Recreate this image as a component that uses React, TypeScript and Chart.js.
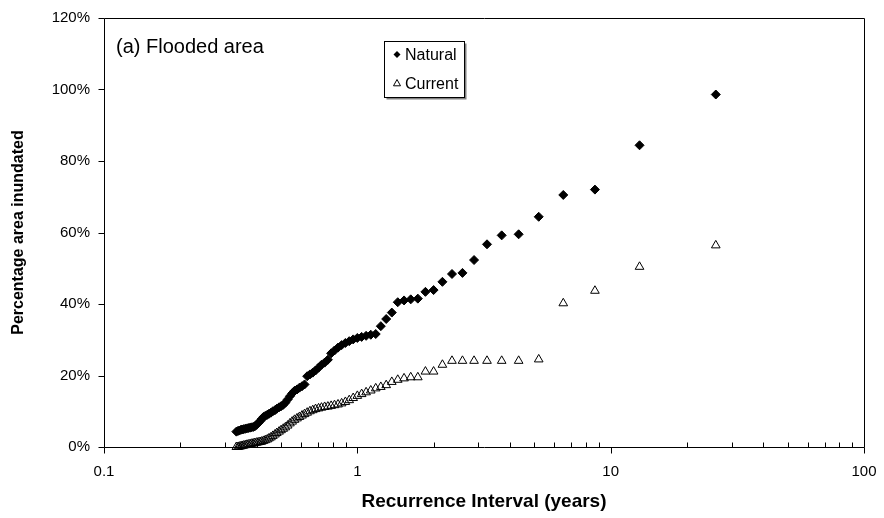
import React, { useEffect, useRef } from 'react';
import { Chart, registerables } from 'chart.js';

Chart.register(...registerables);

// Recurrence interval (years) for each ranked event
const recurrenceYears = [
  26, 13, 8.667, 6.5, 5.2, 4.333, 3.714, 3.25, 2.889, 2.6,
  2.364, 2.167, 2, 1.857, 1.733, 1.625, 1.529, 1.444, 1.368, 1.3,
  1.238, 1.182, 1.13, 1.083, 1.04, 1, 0.963, 0.929, 0.897, 0.867,
  0.839, 0.8125, 0.788, 0.765, 0.743, 0.722, 0.703, 0.684, 0.667, 0.65,
  0.634, 0.619, 0.605, 0.591, 0.578, 0.565, 0.553, 0.542, 0.531, 0.52,
  0.51, 0.5, 0.491, 0.481, 0.473, 0.464, 0.456, 0.448, 0.441, 0.433,
  0.426, 0.419, 0.413, 0.406, 0.4, 0.394, 0.388, 0.382, 0.377, 0.371,
  0.366, 0.361, 0.356, 0.351, 0.347, 0.342, 0.338, 0.333,
];

// Percentage area inundated, natural flows
const naturalPct = [
  98.6, 84.4, 72.0, 70.5, 64.4, 59.5, 59.2, 56.7, 52.3, 48.7,
  48.4, 46.2, 43.9, 43.4, 41.5, 41.3, 41.0, 40.5, 37.6, 35.8,
  33.8, 31.6, 31.4, 31.1, 30.8, 30.5, 30.1, 29.6, 29.1, 28.5,
  27.8, 27.0, 26.2, 24.4, 23.6, 23.0, 22.2, 21.4, 20.8, 20.3,
  19.8, 17.5, 17.0, 16.6, 16.1, 15.7, 15.0, 14.2, 13.3, 12.4,
  11.8, 11.4, 11.1, 10.7, 10.3, 10.0, 9.6, 9.3, 9.0, 8.7,
  8.4, 7.8, 7.2, 6.7, 6.2, 5.8, 5.6, 5.5, 5.4, 5.3,
  5.2, 5.1, 5.0, 4.9, 4.8, 4.6, 4.5, 4.3,
];

// Percentage area inundated, current flows
const currentPct = [
  56.4, 50.4, 43.7, 40.2, 24.5, 24.1, 24.1, 24.1, 24.1, 24.1,
  24.1, 23.0, 21.1, 21.1, 19.5, 19.5, 19.2, 18.8, 18.2, 17.3,
  16.8, 16.4, 15.8, 15.3, 14.8, 14.3, 13.7, 13.1, 12.6, 12.2,
  11.9, 11.7, 11.5, 11.3, 11.2, 11.0, 10.8, 10.6, 10.3, 10.0,
  9.6, 9.2, 8.8, 8.4, 8.0, 7.6, 7.1, 6.6, 6.0, 5.5,
  5.1, 4.7, 4.3, 3.9, 3.5, 3.1, 2.7, 2.4, 2.1, 1.9,
  1.7, 1.5, 1.4, 1.3, 1.2, 1.1, 1.0, 0.9, 0.8, 0.7,
  0.6, 0.5, 0.4, 0.3, 0.2, 0.1, 0, 0,
];

const xTickValues = [0.1, 1, 10, 100];
const xTickLabels = ['0.1', '1', '10', '100'];
const xMinorTicks = [
  0.2, 0.3, 0.4, 0.5, 0.6, 0.7, 0.8, 0.9,
  2, 3, 4, 5, 6, 7, 8, 9,
  20, 30, 40, 50, 60, 70, 80, 90,
];
const yTickValues = [0, 20, 40, 60, 80, 100, 120];

const chartLabel = '(a) Flooded area';
const seriesNames = ['Natural', 'Current'];
const xAxisTitle = 'Recurrence Interval (years)';
const yAxisTitle = 'Percentage area inundated';

const FONT = '"Liberation Sans", Arial, sans-serif';

function drawDiamond(ctx: CanvasRenderingContext2D, x: number, y: number, r: number) {
  ctx.beginPath();
  ctx.moveTo(x, y - r);
  ctx.lineTo(x + r, y);
  ctx.lineTo(x, y + r);
  ctx.lineTo(x - r, y);
  ctx.closePath();
  ctx.fillStyle = '#000';
  ctx.fill();
}

function drawTriangle(ctx: CanvasRenderingContext2D, x: number, y: number, r: number) {
  ctx.beginPath();
  ctx.moveTo(x, y - r);
  ctx.lineTo(x + r, y + r * 0.8);
  ctx.lineTo(x - r, y + r * 0.8);
  ctx.closePath();
  ctx.strokeStyle = '#000';
  ctx.lineWidth = 1;
  ctx.stroke();
}

const decorPlugin = {
  id: 'decor',
  afterDraw(chart: any) {
    const { ctx, chartArea: a, scales } = chart;
    const L = Math.round(a.left) + 0.5;
    const R = Math.round(a.right) + 0.5;
    const T = Math.round(a.top) + 0.5;
    const B = Math.round(a.bottom) + 0.5;
    ctx.save();
    ctx.strokeStyle = '#000';
    ctx.lineWidth = 1;
    ctx.beginPath();
    ctx.rect(L, T, R - L, B - T);
    ctx.stroke();

    // y ticks (outside)
    ctx.beginPath();
    for (const v of yTickValues) {
      const y = Math.round(scales.y.getPixelForValue(v)) + 0.5;
      ctx.moveTo(L - 6, y);
      ctx.lineTo(L, y);
    }
    // x major ticks (outside)
    for (const v of xTickValues) {
      const x = Math.round(scales.x.getPixelForValue(v)) + 0.5;
      ctx.moveTo(x, B);
      ctx.lineTo(x, B + 6);
    }
    // x minor ticks (inside)
    for (const v of xMinorTicks) {
      const x = Math.round(scales.x.getPixelForValue(v)) + 0.5;
      ctx.moveTo(x, B - 5);
      ctx.lineTo(x, B);
    }
    ctx.stroke();

    // panel label
    ctx.fillStyle = '#000';
    ctx.font = `20px ${FONT}`;
    ctx.textAlign = 'left';
    ctx.textBaseline = 'alphabetic';
    ctx.fillText(chartLabel, 116, 52.5);

    // legend box with shadow
    const bx = 384.5, by = 41.5, bw = 80, bh = 56;
    ctx.fillStyle = '#808080';
    ctx.fillRect(bx + 2, by + 2, bw, bh);
    ctx.fillStyle = '#fff';
    ctx.fillRect(bx, by, bw, bh);
    ctx.strokeStyle = '#000';
    ctx.strokeRect(bx, by, bw, bh);

    drawDiamond(ctx, 397, 54.5, 3.5);
    drawTriangle(ctx, 397, 83, 3.5);
    ctx.fillStyle = '#000';
    ctx.font = `16px ${FONT}`;
    ctx.fillText(seriesNames[0], 405, 60);
    ctx.fillText(seriesNames[1], 405, 88.5);
    ctx.restore();
  },
};

export default function App() {
  const canvasRef = useRef<HTMLCanvasElement | null>(null);

  useEffect(() => {
    const canvas = canvasRef.current;
    if (!canvas) return;
    const naturalData = recurrenceYears.map((x, i) => ({ x, y: naturalPct[i] }));
    const currentData = recurrenceYears.map((x, i) => ({ x, y: currentPct[i] }));

    const chart = new Chart(canvas, {
      type: 'scatter',
      data: {
        datasets: [
          {
            label: seriesNames[0],
            data: naturalData,
            pointStyle: 'rectRot',
            pointRadius: 4.5,
            pointHoverRadius: 4.5,
            backgroundColor: '#000',
            borderColor: '#000',
            borderWidth: 1,
            showLine: false,
            clip: false,
          } as any,
          {
            label: seriesNames[1],
            data: currentData,
            pointStyle: 'triangle',
            pointRadius: 5,
            pointHoverRadius: 5,
            backgroundColor: 'rgba(0,0,0,0)',
            borderColor: '#000',
            borderWidth: 1,
            showLine: false,
            clip: false,
          } as any,
        ],
      },
      options: {
        responsive: false,
        animation: false,
        events: [],
        layout: { padding: { left: 0, right: 20, top: 18, bottom: 0 } },
        plugins: {
          legend: { display: false },
          tooltip: { enabled: false },
        },
        scales: {
          x: {
            type: 'logarithmic',
            min: 0.1,
            max: 100,
            afterBuildTicks: (s: any) => {
              s.ticks = xTickValues.map((v) => ({ value: v }));
            },
            afterFit: (s: any) => {
              s.height = 71;
              s.paddingLeft = 0;
              s.paddingRight = 0;
            },
            ticks: {
              autoSkip: false,
              maxRotation: 0,
              padding: 16,
              color: '#000',
              font: { family: FONT, size: 15 },
              callback: (v: any) => {
                const i = xTickValues.indexOf(Number(v));
                return i >= 0 ? xTickLabels[i] : '';
              },
            },
            grid: { display: false, drawTicks: false },
            border: { display: false },
            title: {
              display: true,
              text: xAxisTitle,
              color: '#000',
              font: { family: FONT, size: 19, weight: 'bold' },
              padding: { top: 0, bottom: 5 },
            },
          },
          y: {
            min: 0,
            max: 120,
            afterBuildTicks: (s: any) => {
              s.ticks = yTickValues.map((v) => ({ value: v }));
            },
            afterFit: (s: any) => {
              s.width = 104;
              s.paddingTop = 0;
              s.paddingBottom = 0;
            },
            ticks: {
              padding: 14,
              color: '#000',
              font: { family: FONT, size: 15 },
              callback: (v: any) => `${v}%`,
            },
            grid: { display: false, drawTicks: false },
            border: { display: false },
            title: {
              display: true,
              text: yAxisTitle,
              color: '#000',
              font: { family: FONT, size: 16, weight: 'bold' },
              padding: { top: 9, bottom: 0 },
            },
          },
        },
      } as any,
      plugins: [decorPlugin],
    });

    return () => {
      chart.destroy();
    };
  }, []);

  return (
    <div style={{ position: 'absolute', left: 0, top: 0, width: 884, height: 518, background: '#fff' }}>
      <canvas ref={canvasRef} width={884} height={518} style={{ display: 'block' }} />
    </div>
  );
}
